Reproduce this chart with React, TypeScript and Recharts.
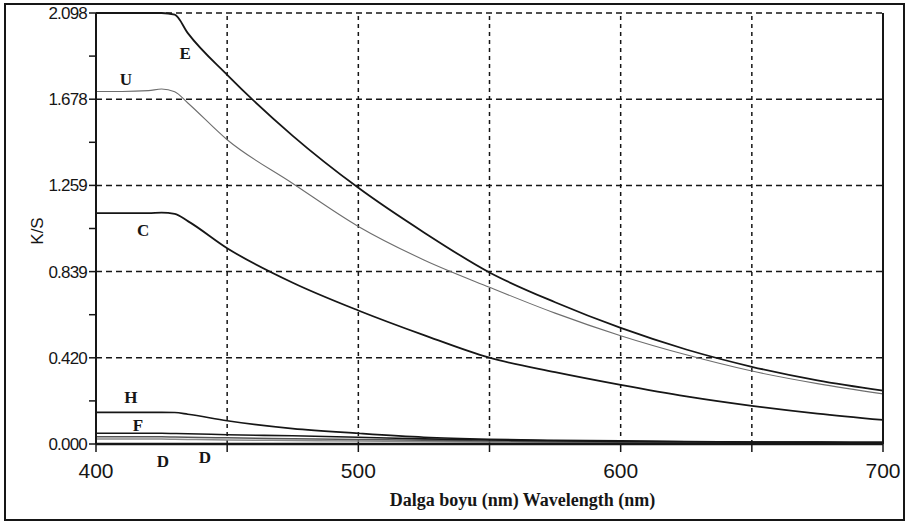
import { LineChart, Line, XAxis, YAxis, ReferenceLine, ReferenceDot } from "recharts";

// wavelength (nm) and K/S values
const wavelengths = [400, 410, 420, 425, 430, 435, 450, 475, 500, 525, 550, 575, 600, 625, 650, 675, 700];
const seriesE = [2.098, 2.098, 2.098, 2.098, 2.09, 2.0, 1.797, 1.5, 1.247, 1.03, 0.835, 0.69, 0.565, 0.46, 0.376, 0.31, 0.26];
const seriesU = [1.716, 1.716, 1.72, 1.728, 1.715, 1.66, 1.481, 1.268, 1.059, 0.896, 0.763, 0.637, 0.527, 0.434, 0.355, 0.294, 0.244];
const seriesC = [1.124, 1.124, 1.124, 1.126, 1.12, 1.085, 0.953, 0.785, 0.65, 0.53, 0.42, 0.35, 0.288, 0.232, 0.186, 0.148, 0.117];
const seriesH = [0.154, 0.154, 0.154, 0.154, 0.153, 0.145, 0.113, 0.075, 0.052, 0.033, 0.023, 0.018, 0.015, 0.012, 0.01, 0.009, 0.008];
const seriesF = [0.052, 0.052, 0.052, 0.052, 0.051, 0.05, 0.045, 0.04, 0.033, 0.025, 0.02, 0.016, 0.013, 0.011, 0.01, 0.009, 0.008];
const seriesD1 = [0.035, 0.035, 0.035, 0.035, 0.034, 0.033, 0.03, 0.026, 0.022, 0.018, 0.015, 0.012, 0.01, 0.008, 0.007, 0.006, 0.006];
const seriesD2 = [0.024, 0.024, 0.024, 0.024, 0.023, 0.022, 0.02, 0.017, 0.014, 0.012, 0.01, 0.008, 0.007, 0.006, 0.005, 0.004, 0.004];

const xTicks = [400, 450, 500, 550, 600, 650, 700];
const xMajor = [400, 500, 600, 700];
const xGrid = [450, 500, 550, 600, 650];
const yMax = 2.098;
const yTicks = [0, 0.2098, 0.4196, 0.6294, 0.8392, 1.049, 1.2588, 1.4686, 1.6784, 1.8882, 2.098];
const yGrid = [0.4196, 0.8392, 1.2588, 1.6784, 2.098];

// curve letters, anchored in data units
const curveLabels = [
  { name: "E", wl: 434, ks: 1.90 },
  { name: "U", wl: 411.4, ks: 1.773 },
  { name: "C", wl: 418, ks: 1.037 },
  { name: "H", wl: 413.3, ks: 0.224 },
  { name: "F", wl: 416, ks: 0.088 },
  { name: "D", wl: 425.5, ks: -0.083 },
  { name: "D", wl: 441.5, ks: -0.068 },
];

const data = wavelengths.map((wl, i) => ({
  wl,
  E: seriesE[i],
  U: seriesU[i],
  C: seriesC[i],
  H: seriesH[i],
  F: seriesF[i],
  D1: seriesD1[i],
  D2: seriesD2[i],
}));

const INK = "#161616";
const SANS = "'Liberation Sans', Arial, sans-serif";
const SERIF = "'Liberation Serif', 'DejaVu Serif', serif";

function YTick(props: any) {
  const { x, y, payload } = props;
  const idx = Math.round(payload.value / 0.2098);
  if (idx % 2 !== 0) return <g />;
  return (
    <text x={x} y={y} dy={6} textAnchor="end" fontFamily={SANS} fontSize={17} letterSpacing={-0.8} fill={INK}>
      {payload.value.toFixed(3)}
    </text>
  );
}

function XTick(props: any) {
  const { x, y, payload } = props;
  if (!xMajor.includes(payload.value)) return <g />;
  return (
    <text x={x} y={y + 26} textAnchor="middle" fontFamily={SANS} fontSize={21} fill={INK}>
      {payload.value}
    </text>
  );
}

export default function App() {
  return (
    <div style={{ position: "absolute", left: 0, top: 0, width: 907, height: 524, background: "#fff" }}>
      <div
        style={{
          position: "absolute",
          left: 4,
          top: 3,
          width: 897,
          height: 514,
          border: `2px solid ${INK}`,
        }}
      />
      <div style={{ position: "absolute", left: 0, top: 0 }}>
        <LineChart width={907} height={524} data={data} margin={{ top: 13, right: 14, bottom: 20, left: 0 }}>
          <XAxis
            dataKey="wl"
            type="number"
            domain={[400, 700]}
            ticks={xTicks}
            interval={0}
            tickSize={8}
            tickMargin={0}
            height={60}
            axisLine={{ stroke: INK, strokeWidth: 2.5 }}
            tickLine={{ stroke: INK, strokeWidth: 1.5 }}
            tick={<XTick />}
            label={{
              content: (p: any) => {
                const vb = p.viewBox;
                return (
                  <text
                    x={vb.x + vb.width / 2 + 33}
                    y={506}
                    textAnchor="middle"
                    fontFamily={SERIF}
                    fontWeight="bold"
                    fontSize={18}
                    fill={INK}
                  >
                    Dalga boyu (nm)  Wavelength (nm)
                  </text>
                );
              },
            }}
          />
          <YAxis
            yAxisId="left"
            type="number"
            domain={[0, yMax]}
            ticks={yTicks}
            interval={0}
            width={96}
            tickSize={7}
            tickMargin={2}
            axisLine={{ stroke: INK, strokeWidth: 2 }}
            tickLine={{ stroke: INK, strokeWidth: 1.5 }}
            tick={<YTick />}
            label={{
              content: () => (
                <text
                  x={37}
                  y={231}
                  transform="rotate(-90 37 231)"
                  textAnchor="middle"
                  dominantBaseline="central"
                  fontFamily={SANS}
                  fontSize={17}
                  fill={INK}
                >
                  K/S
                </text>
              ),
            }}
          />
          <YAxis
            yAxisId="right"
            orientation="right"
            type="number"
            domain={[0, yMax]}
            ticks={yTicks}
            interval={0}
            width={10}
            tickSize={3}
            axisLine={{ stroke: INK, strokeWidth: 2 }}
            tickLine={{ stroke: INK, strokeWidth: 1 }}
            tick={false}
          />
          {xGrid.map((v) => (
            <ReferenceLine
              key={`vx${v}`}
              yAxisId="left"
              x={v}
              stroke={INK}
              strokeWidth={1.5}
              strokeDasharray="4 4"
            />
          ))}
          {yGrid.map((v) => (
            <ReferenceLine
              key={`hy${v}`}
              yAxisId="left"
              y={v}
              stroke={INK}
              strokeWidth={1.5}
              strokeDasharray="6 4"
            />
          ))}
          <Line yAxisId="left" type="monotone" dataKey="D2" stroke="#8a8a8a" strokeWidth={1.5} dot={false} isAnimationActive={false} />
          <Line yAxisId="left" type="monotone" dataKey="D1" stroke="#555" strokeWidth={1.5} dot={false} isAnimationActive={false} />
          <Line yAxisId="left" type="monotone" dataKey="F" stroke={INK} strokeWidth={1.6} dot={false} isAnimationActive={false} />
          <Line yAxisId="left" type="monotone" dataKey="H" stroke={INK} strokeWidth={1.6} dot={false} isAnimationActive={false} />
          <Line yAxisId="left" type="monotone" dataKey="C" stroke={INK} strokeWidth={1.8} dot={false} isAnimationActive={false} />
          <Line yAxisId="left" type="monotone" dataKey="U" stroke="#6e6e6e" strokeWidth={1.1} dot={false} isAnimationActive={false} />
          <Line yAxisId="left" type="monotone" dataKey="E" stroke={INK} strokeWidth={1.8} dot={false} isAnimationActive={false} />
          {curveLabels.map((l, i) => (
            <ReferenceDot
              key={`lab${i}`}
              yAxisId="left"
              x={l.wl}
              y={l.ks}
              r={0}
              ifOverflow="visible"
              shape={(p: any) => (
                <text
                  x={p.cx}
                  y={p.cy}
                  textAnchor="middle"
                  dominantBaseline="central"
                  fontFamily={SERIF}
                  fontWeight="bold"
                  fontSize={17}
                  fill={INK}
                >
                  {l.name}
                </text>
              )}
            />
          ))}
        </LineChart>
      </div>
    </div>
  );
}
